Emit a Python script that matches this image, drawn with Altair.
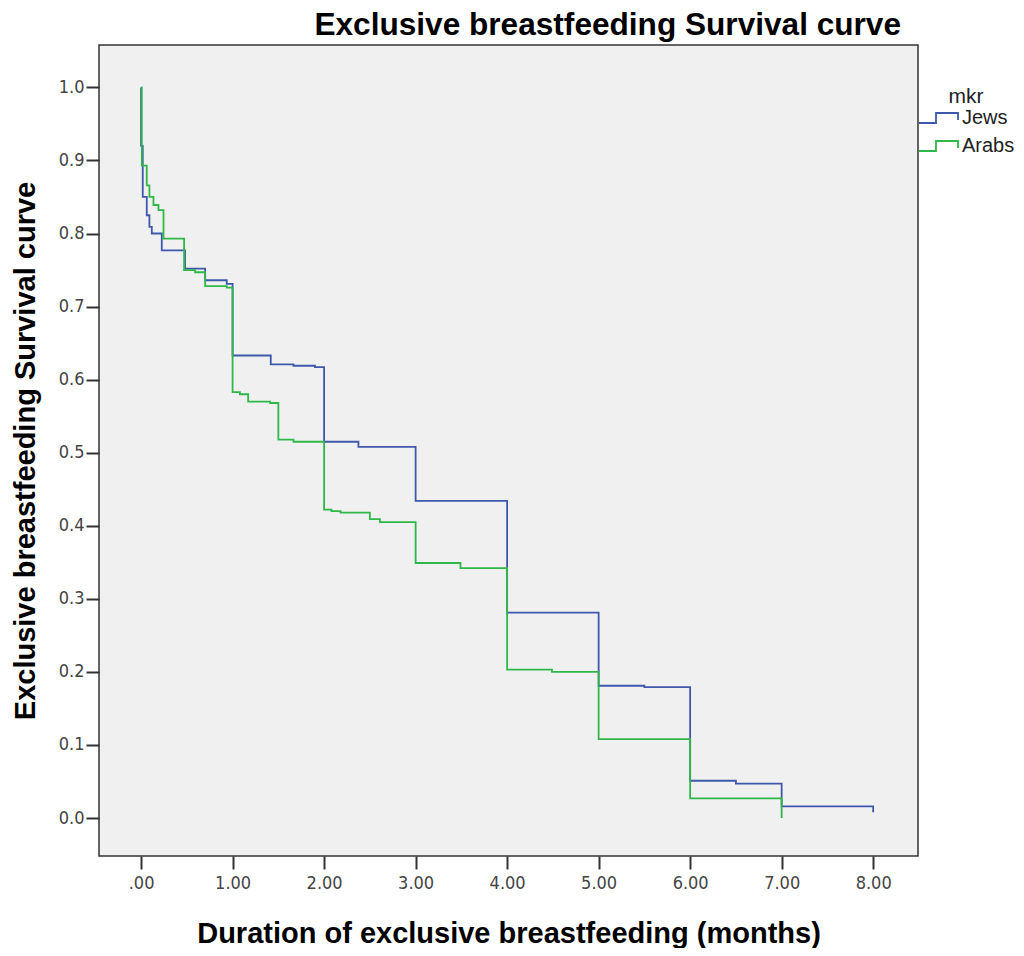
import altair as alt
import pandas as pd

# Kaplan-Meier step values
jews_t = [0.0, 0.0, 0.018, 0.062, 0.091, 0.117, 0.226, 0.48, 0.70, 0.936, 1.0, 1.417, 1.665, 1.90,
          2.0, 2.375, 3.0, 4.0, 5.0, 5.5, 6.0, 6.5, 7.0, 8.0]
jews_s = [1.0, 0.92, 0.85, 0.825, 0.809, 0.800, 0.777, 0.752, 0.736, 0.731, 0.633, 0.621, 0.619, 0.617,
          0.515, 0.508, 0.434, 0.281, 0.181, 0.179, 0.051, 0.047, 0.016, 0.008]

arabs_t = [0.0, 0.008, 0.062, 0.091, 0.135, 0.19, 0.245, 0.47, 0.59, 0.70, 0.936, 1.0, 1.08, 1.17,
           1.41, 1.5, 1.665, 2.0, 2.08, 2.18, 2.50, 2.61, 3.0, 3.49, 4.0, 4.49, 5.0, 6.0, 7.0]
arabs_s = [1.0, 0.893, 0.866, 0.85, 0.839, 0.832, 0.793, 0.750, 0.747, 0.728, 0.726, 0.583, 0.580, 0.570,
           0.568, 0.518, 0.515, 0.422, 0.420, 0.418, 0.409, 0.405, 0.349, 0.342, 0.203, 0.200, 0.108, 0.027, 0.0]

groups = ["Jews", "Arabs"]
colors = ["#3E58AC", "#2EB848"]
x_ticks = [0, 1, 2, 3, 4, 5, 6, 7, 8]
y_ticks = [0.0, 0.1, 0.2, 0.3, 0.4, 0.5, 0.6, 0.7, 0.8, 0.9, 1.0]

rows = []
for i, (t, s) in enumerate(zip(jews_t, jews_s)):
    rows.append({"t": t, "s": s, "mkr": "Jews", "o": i})
for i, (t, s) in enumerate(zip(arabs_t, arabs_s)):
    rows.append({"t": t, "s": s, "mkr": "Arabs", "o": i})
df = pd.DataFrame(rows)

TICK_FONT = "Liberation Sans Narrow, DejaVu Sans Condensed, Liberation Sans, sans-serif"
BOLD_FONT = "Liberation Sans, Arial, sans-serif"

step_path = "M -1 0.5 H 0.7 V -0.5 H 2.9 V 0.2"

chart = alt.Chart(df).mark_line(interpolate="step-after", strokeWidth=1.8).encode(
    x=alt.X("t:Q",
            scale=alt.Scale(domain=[-0.46, 8.49], nice=False, zero=False),
            axis=alt.Axis(values=x_ticks,
                          labelExpr="datum.value == 0 ? '.00' : format(datum.value, '.2f')",
                          title="Duration of exclusive breastfeeding (months)",
                          grid=False, tickSize=13, tickWidth=2, tickColor="#333",
                          domain=False, labelPadding=5, labelFont=TICK_FONT, labelFontSize=18,
                          labelColor="#444", titleFont=BOLD_FONT, titleFontSize=29,
                          titleFontWeight="bold", titleColor="#000", titlePadding=27)),
    y=alt.Y("s:Q",
            scale=alt.Scale(domain=[-0.052, 1.058], nice=False, zero=False),
            axis=alt.Axis(values=y_ticks, format=".1f",
                          title="Exclusive breastfeeding Survival curve",
                          grid=False, tickSize=13, tickWidth=2, tickColor="#333",
                          domain=False, labelPadding=2, labelFont=TICK_FONT, labelFontSize=18,
                          labelColor="#444", titleFont=BOLD_FONT, titleFontSize=29,
                          titleFontWeight="bold", titleColor="#000", titlePadding=18)),
    color=alt.Color("mkr:N",
                    scale=alt.Scale(domain=groups, range=colors),
                    legend=alt.Legend(title="mkr", orient="none", legendX=819, legendY=41,
                                      symbolType=step_path, symbolSize=400,
                                      symbolStrokeWidth=1.8, symbolFillColor="transparent",
                                      labelOffset=22, rowPadding=7, padding=0,
                                      titleAnchor="middle", titleFont=BOLD_FONT,
                                      titleFontWeight="normal", titleFontSize=21,
                                      titleColor="#222", titlePadding=0,
                                      labelFont=BOLD_FONT, labelFontSize=20,
                                      labelColor="#222")),
    order=alt.Order("o:Q"),
    detail="mkr:N",
).properties(
    width=819, height=811,
    title=alt.TitleParams("Exclusive breastfeeding Survival curve", anchor="end",
                          frame="group", dx=-17, offset=3, fontSize=31.6,
                          font=BOLD_FONT, fontWeight="bold", color="#000"),
    autosize=alt.AutoSizeParams(type="none"),
    padding={"left": 91, "top": 37, "right": 98, "bottom": 92},
    background="white",
).configure_view(
    fill="#F0F0F0", stroke="#333", strokeWidth=1.5
)

chart.save("out.html", embed_options={"renderer": "svg", "actions": False})
